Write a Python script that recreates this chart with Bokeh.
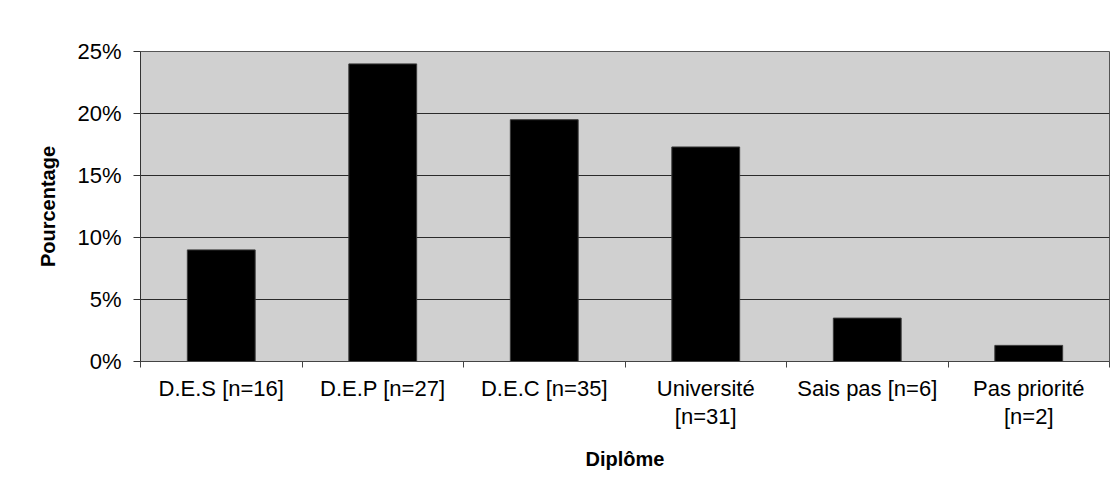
from bokeh.plotting import figure
from bokeh.models import (Range1d, LinearAxis, FixedTicker, NumeralTickFormatter, ColumnDataSource)
from bokeh.embed import file_html
from bokeh.resources import INLINE

categories = ["D.E.S [n=16]", "D.E.P [n=27]", "D.E.C [n=35]",
              "Université\n[n=31]", "Sais pas [n=6]", "Pas priorité\n[n=2]"]
percentages = [0.09, 0.24, 0.195, 0.173, 0.035, 0.013]
y_ticks = [0.0, 0.05, 0.10, 0.15, 0.20, 0.25]
y_title = "Pourcentage"
x_title = "Diplôme"

FONT = "Liberation Sans"

n = len(categories)
centers = [i + 0.5 for i in range(n)]
edges = list(range(n + 1))
source = ColumnDataSource(data=dict(x=centers, pct=percentages, cat=categories))

p = figure(width=1110, height=493, output_backend="svg", toolbar_location=None,
           x_range=Range1d(0, n), y_range=Range1d(0, 0.25),
           x_axis_location=None, y_axis_location="left",
           min_border_left=140, min_border_right=1, min_border_top=51, min_border_bottom=132)

p.background_fill_color = "#d0d0d0"
p.border_fill_color = "white"
p.outline_line_color = "#555555"
p.outline_line_width = 1
p.xgrid.visible = False

p.vbar(x="x", top="pct", width=0.42, source=source,
       fill_color="black", line_color="#3a3a3a", line_width=1)

# y axis
ya = p.yaxis[0]
ya.ticker = FixedTicker(ticks=y_ticks)
ya.formatter = NumeralTickFormatter(format="0%")
ya.major_tick_out = 7
ya.major_tick_in = 0
ya.minor_tick_out = 0
ya.minor_tick_in = 0
ya.axis_line_color = "#333333"
ya.major_tick_line_color = "#333333"
ya.major_label_text_font = FONT
ya.major_label_text_font_size = "22px"
ya.major_label_text_color = "black"
ya.major_label_standoff = 12
ya.axis_label = y_title
ya.axis_label_text_font = FONT
ya.axis_label_text_font_style = "bold"
ya.axis_label_text_font_size = "20px"
ya.axis_label_text_color = "black"
ya.axis_label_standoff = 15

p.ygrid.ticker = FixedTicker(ticks=y_ticks)
p.ygrid.grid_line_color = "#2a2a2a"
p.ygrid.grid_line_width = 1

# category labels at bar centres, tick marks at category boundaries
cat_axis = LinearAxis(ticker=FixedTicker(ticks=centers, minor_ticks=edges))
cat_axis.major_label_overrides = {c: lab for c, lab in zip(centers, categories)}
cat_axis.major_tick_out = 0
cat_axis.major_tick_in = 0
cat_axis.major_tick_line_color = None
cat_axis.minor_tick_out = 6
cat_axis.minor_tick_in = 0
cat_axis.minor_tick_line_color = "#444444"
cat_axis.axis_line_color = "#444444"
cat_axis.major_label_text_font = FONT
cat_axis.major_label_text_font_size = "22px"
cat_axis.major_label_text_color = "black"
cat_axis.major_label_text_line_height = 1.15
cat_axis.major_label_standoff = 8
cat_axis.axis_label = x_title
cat_axis.axis_label_text_font = FONT
cat_axis.axis_label_text_font_style = "bold"
cat_axis.axis_label_text_font_size = "20px"
cat_axis.axis_label_text_color = "black"
cat_axis.axis_label_standoff = 16
p.add_layout(cat_axis, "below")

open("out.html", "w").write(file_html(p, INLINE))
